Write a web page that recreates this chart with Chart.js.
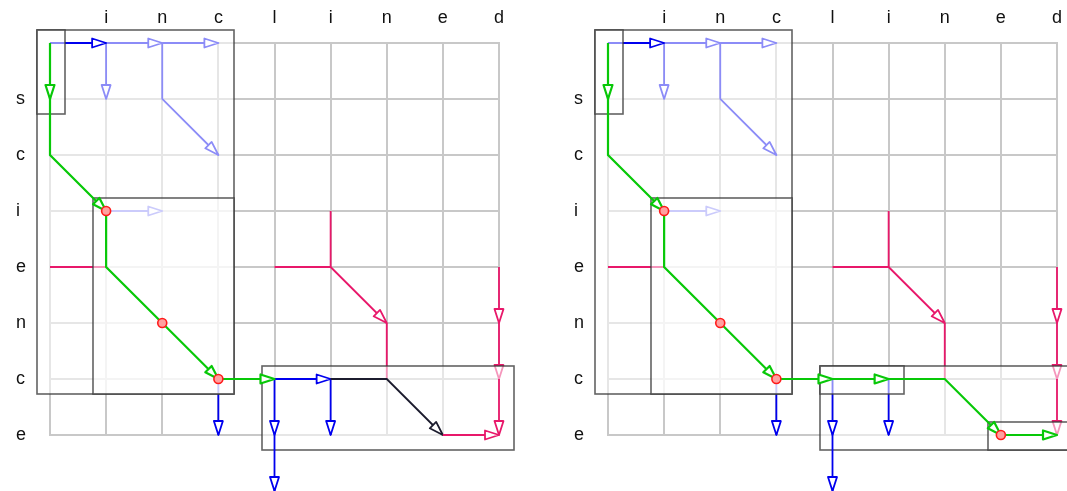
<!DOCTYPE html>
<html>
<head>
<meta charset="utf-8">
<script src="https://cdn.jsdelivr.net/npm/chart.js@4"></script>
<style>
  html, body { margin: 0; padding: 0; background: #fff; overflow: hidden; }
  canvas { position: absolute; top: 0; }
  #left { left: 0; }
  #right { left: 558px; }
</style>
</head>
<body>
<canvas id="left" width="558" height="491"></canvas>
<canvas id="right" width="558" height="491"></canvas>
<script>
/* Alignment grids: "inclined" across, "science" down */
const topLabels = ['', 'i', 'n', 'c', 'l', 'i', 'n', 'e', 'd'];
const sideLabels = ['', 's', 'c', 'i', 'e', 'n', 'c', 'e'];

// paths are lists of [column, row] cells; arrows end in a head
const blueUnder = [
    [[1, 0], [2, 0]],
    [[2, 0], [3, 0]],
    [[1, 0], [1, 1]],
    [[2, 0], [2, 1], [3, 2]],
    [[1, 3], [2, 3]],
    [[3, 6], [3, 7]]
];
const crimsonUnderArrows = [
    [[4, 4], [5, 4], [6, 5]],
    [[8, 4], [8, 5]],
    [[8, 5], [8, 6]]
];
const crimsonUnderLines = [
    [[5, 3], [5, 4]],
    [[6, 5], [6, 6]]
];
const outerBoxes = [[0, 0, 3, 6], [4, 6, 8, 7]];
const firstStep = [[[0, 0], [1, 0]]];
const crimsonMidLines = [[[0, 4], [1, 4]]];
const greenShared = [
    [[0, 0], [0, 1]],
    [[0, 1], [0, 2], [1, 3]],
    [[1, 3], [1, 4], [2, 5], [3, 6]],
    [[3, 6], [4, 6]]
];

// left panel
const leftInnerBoxes = [[0, 0, 0, 1], [1, 3, 3, 6]];
const leftBlueTop = [
    [[4, 6], [5, 6]],
    [[4, 6], [4, 7]],
    [[4, 7], [4, 8]],
    [[5, 6], [5, 7]]
];
const leftDark = [[[5, 6], [6, 6], [7, 7]]];
const leftCrimsonTop = [[[7, 7], [8, 7]], [[8, 6], [8, 7]]];
const leftDots = [[1, 3], [2, 5], [3, 6]];

// right panel
const rightBlueMid = [[[4, 6], [4, 7]], [[5, 6], [5, 7]]];
const rightCrimsonMid = [[[8, 6], [8, 7]]];
const rightInnerBoxes = [[0, 0, 0, 1], [1, 3, 3, 6], [4, 6, 5, 6], [7, 7, 8, 7]];
const rightGreenTail = [
    [[4, 6], [5, 6]],
    [[5, 6], [6, 6], [7, 7]],
    [[7, 7], [8, 7]]
];
const rightBlueTop = [[[4, 7], [4, 8]]];
const rightDots = [[1, 3], [2, 5], [3, 6], [7, 7]];

const STYLE = {
    green: { color: '#08c808', width: 2.2 },
    blue: { color: '#0000ee', width: 1.8 },
    dark: { color: '#1c1c2e', width: 1.8 },
    crimson: { color: '#e8186a', width: 1.8 }
};
const FONT = { family: '"Liberation Sans", Arial, sans-serif', size: 18 };
const PAD_LO = 0.23, PAD_HI = 0.27;
const HEAD_LEN = 14, HEAD_W = 4.5;

// drawing order, bottom first
const leftSteps = [
    ['blue', blueUnder, true],
    ['crimson', crimsonUnderArrows, true],
    ['crimson', crimsonUnderLines, false],
    ['box', outerBoxes],
    ['blue', firstStep, true],
    ['crimson', crimsonMidLines, false],
    ['box', leftInnerBoxes],
    ['blue', leftBlueTop, true],
    ['dark', leftDark, true],
    ['crimson', leftCrimsonTop, true],
    ['green', greenShared, true],
    ['dot', leftDots]
];
const rightSteps = [
    ['blue', blueUnder, true],
    ['crimson', crimsonUnderArrows, true],
    ['crimson', crimsonUnderLines, false],
    ['box', outerBoxes],
    ['blue', firstStep, true],
    ['crimson', crimsonMidLines, false],
    ['blue', rightBlueMid, true],
    ['crimson', rightCrimsonMid, true],
    ['box', rightInnerBoxes],
    ['blue', rightBlueTop, true],
    ['green', greenShared.concat(rightGreenTail), true],
    ['dot', rightDots]
];

const toXY = path => path.map(([x, y]) => ({ x, y }));

function buildDatasets(steps) {
    const out = [];
    steps.forEach(([kind, items, head]) => {
        if (kind === 'box') {
            items.forEach(b => out.push({
                kind: 'box',
                data: [{ x: b[0] - PAD_LO, y: b[1] - PAD_LO }, { x: b[2] + PAD_HI, y: b[3] + PAD_HI }],
                showLine: false,
                pointRadius: 0
            }));
        } else if (kind === 'dot') {
            out.push({
                kind: 'dot',
                data: toXY(items),
                showLine: false,
                pointRadius: 4.5,
                pointBorderWidth: 1.6,
                pointBorderColor: '#ff1a1a',
                pointBackgroundColor: '#ffa0a0'
            });
        } else {
            const st = STYLE[kind];
            items.forEach(p => out.push({
                kind: head ? 'arrow' : 'line',
                data: toXY(p),
                showLine: true,
                borderColor: st.color,
                borderWidth: st.width,
                pointRadius: 0,
                tension: 0,
                borderCapStyle: 'butt',
                borderJoinStyle: 'miter'
            }));
        }
    });
    // first item is drawn first
    out.forEach((ds, i) => {
        ds.order = -i;
        ds.clip = false;
        ds.pointHoverRadius = 0;
    });
    return out;
}

const marksPlugin = {
    id: 'marks',
    afterDatasetDraw(chart, args) {
        const ds = chart.data.datasets[args.index];
        const pts = args.meta.data;
        const ctx = chart.ctx;
        if (ds.kind === 'box') {
            const a = pts[0], b = pts[1];
            const x0 = Math.round(a.x), y0 = Math.round(a.y);
            const x1 = Math.round(b.x), y1 = Math.round(b.y);
            ctx.save();
            ctx.fillStyle = 'rgba(255,255,255,0.55)';
            ctx.fillRect(x0, y0, x1 - x0, y1 - y0);
            ctx.strokeStyle = 'rgba(60,60,60,0.8)';
            ctx.lineWidth = 1.6;
            ctx.strokeRect(x0, y0, x1 - x0, y1 - y0);
            ctx.restore();
        } else if (ds.kind === 'arrow') {
            const tip = pts[pts.length - 1], prev = pts[pts.length - 2];
            const ang = Math.atan2(tip.y - prev.y, tip.x - prev.x);
            ctx.save();
            ctx.translate(tip.x, tip.y);
            ctx.rotate(ang);
            ctx.beginPath();
            ctx.moveTo(0, 0);
            ctx.lineTo(-HEAD_LEN, -HEAD_W);
            ctx.lineTo(-HEAD_LEN, HEAD_W);
            ctx.closePath();
            ctx.fillStyle = '#ffffff';
            ctx.fill();
            ctx.strokeStyle = ds.borderColor;
            ctx.lineWidth = ds.borderWidth;
            ctx.lineJoin = 'round';
            ctx.stroke();
            ctx.restore();
        }
    }
};

function makeChart(id, steps) {
    new Chart(document.getElementById(id), {
        type: 'line',
        data: { datasets: buildDatasets(steps) },
        plugins: [marksPlugin],
        options: {
            responsive: false,
            animation: false,
            events: [],
            layout: { padding: { left: 16, top: 0, right: 59, bottom: 56 } },
            plugins: {
                legend: { display: false },
                tooltip: { enabled: false }
            },
            scales: {
                x: {
                    type: 'linear',
                    position: 'top',
                    min: 0,
                    max: 8,
                    ticks: {
                        stepSize: 1,
                        autoSkip: false,
                        maxRotation: 0,
                        padding: 14,
                        color: '#111',
                        font: FONT,
                        callback: v => topLabels[v] || ''
                    },
                    grid: { color: '#c8c8c8', lineWidth: 2, drawTicks: false },
                    border: { color: '#c8c8c8', width: 2 },
                    afterFit: s => { s.height = 43; }
                },
                y: {
                    type: 'linear',
                    reverse: true,
                    min: 0,
                    max: 7,
                    ticks: {
                        stepSize: 1,
                        autoSkip: false,
                        crossAlign: 'far',
                        color: '#111',
                        font: FONT,
                        callback: v => sideLabels[v] || ''
                    },
                    grid: { color: '#c8c8c8', lineWidth: 2, drawTicks: false },
                    border: { color: '#c8c8c8', width: 2 },
                    afterFit: s => { s.width = 34; }
                }
            }
        }
    });
}

makeChart('left', leftSteps);
makeChart('right', rightSteps);
</script>
</body>
</html>
